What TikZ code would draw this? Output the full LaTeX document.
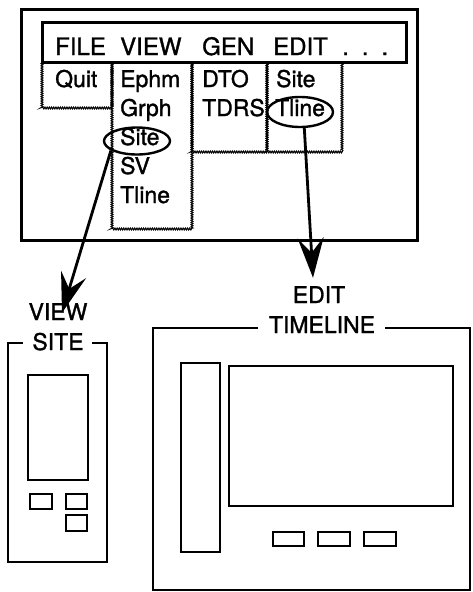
\documentclass[tikz,border=0pt]{standalone}
\usepackage{fontspec}
\setmainfont{TeX Gyre Heros}[RawFeature={embolden=1.3}]
\usetikzlibrary{arrows.meta,shapes.geometric,decorations.pathmorphing}
\begin{document}
\begin{tikzpicture}[x=1pt,y=-1pt,
  thickbox/.style={line width=3pt},
  thinbox/.style={line width=2.8pt},
  wavy/.style={line width=1.1pt, decorate, decoration={zigzag, segment length=2.2pt, amplitude=0.9pt}},
  menu/.style={font=\fontsize{24}{29}\selectfont, anchor=base west, inner sep=0pt},
  item/.style={font=\fontsize{23}{28}\selectfont, anchor=base west, inner sep=0pt},
  lbl/.style={font=\fontsize{23}{28}\selectfont, anchor=base, inner sep=0pt, text height=17pt, text depth=0pt},
  sel/.style={draw, ellipse, line width=2.4pt, inner sep=0pt},
  pointer/.style={line width=2.8pt, -{Stealth[length=40pt,width=26pt,inset=15pt]}}]
\useasboundingbox (0,0) rectangle (472,592);

% outer window
\draw[thickbox] (21,9) rectangle (417,240);

% dropdown boxes
\draw[wavy] (42,62) rectangle (112,108);
\draw[wavy] (112,62) rectangle (192,229);
\draw[wavy] (192,62) rectangle (267,152);
\draw[wavy] (267,62) rectangle (342,152);

% menu bar
\draw[thickbox, fill=white] (42,22) rectangle (406,62);
\node[menu] (mfile) at (55,55) {FILE};
\node[menu] (mview) at (120,55) {VIEW};
\node[menu] (mgen) at (202,55) {GEN};
\node[menu] (medit) at (273,55) {EDIT};
\node[menu] (mdots) at (342,55) {.\hspace{13pt}.\hspace{13pt}.};

% items
\node[item] (quit) at (55,87) {Quit};
\node[item] (ephm) at (120,87) {Ephm};
\node[item] (grph) at (120,116) {Grph};
\node[item] (vsite) at (120,145) {Site};
\node[item] (sv) at (120,174) {SV};
\node[item] (vtline) at (120,203) {Tline};
\node[item] (dto) at (202,87) {DTO};
\node[item] (tdrs) at (202,116) {TDRS};
\node[item] (esite) at (276,87) {Site};
\node[item] (etline) at (275,116) {Tline};

% selections
\node[sel, minimum width=66pt, minimum height=27pt] (selsite) at (137,141) {};
\node[sel, minimum width=66pt, minimum height=30pt] (seltline) at (300,112) {};

% labels
\node[lbl] (viewlbl) at (58,320) {VIEW};
\node[lbl] (sitelbl) at (58,350) {SITE};
\node[lbl] (editlbl) at (319,303) {EDIT};
\node[lbl] (tllbl) at (322,333) {TIMELINE};

% arrows
\draw[pointer] (selsite.200) -- ([xshift=4pt,yshift=-10pt]viewlbl.north);
\draw[pointer] (seltline.285) -- ([xshift=-6pt,yshift=8pt]editlbl.north);

% view site window
\draw[thinbox] (23,343) -- (8,343) -- (8,562) -- (107,562) -- (107,343) -- (92,343);
\draw[thinbox] (28,375) rectangle (88,480);
\draw[thinbox] (30,494) rectangle (52,509);
\draw[thinbox] (66,494) rectangle (87,509);
\draw[thinbox] (66,515) rectangle (87,531);

% edit timeline window
\draw[thinbox] (258,328) -- (153,328) -- (153,590) -- (470,590) -- (470,328) -- (385,328);
\draw[thinbox] (181,363) rectangle (220,552);
\draw[thinbox] (229,366) rectangle (453,506);
\draw[thinbox] (273,532) rectangle (304,546);
\draw[thinbox] (318,532) rectangle (350,546);
\draw[thinbox] (364,532) rectangle (396,546);
\end{tikzpicture}
\end{document}
